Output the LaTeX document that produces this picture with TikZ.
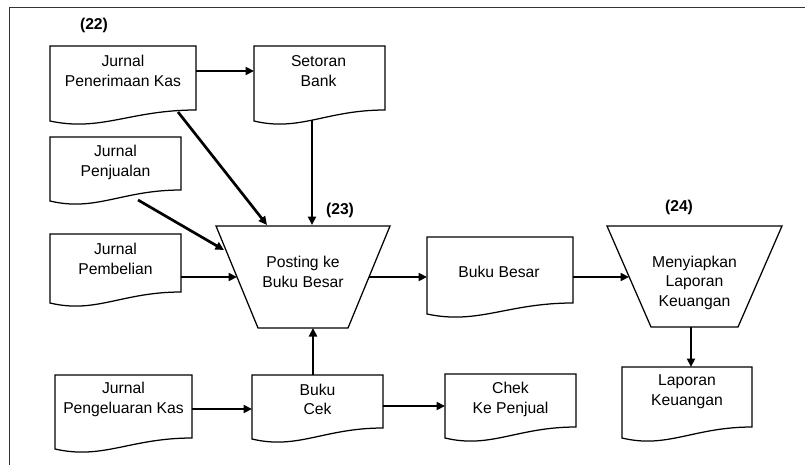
\documentclass[tikz,border=0pt]{standalone}
\usepackage{fontspec}
\setmainfont{Liberation Sans}
\usetikzlibrary{calc,arrows.meta}
\newcommand\docout[1]{\draw[shapeline] (#1.north west) -- (#1.north east) -- (#1.south east) .. controls ($(#1.south east)!0.45!(#1.south west)$) and ($(#1.south west)!0.35!(#1.south east)+(0,22)$) .. ($(#1.south west)+(0,11)$) -- cycle;}
\newcommand\trapout[2]{\draw[shapeline] (#1.north west) -- (#1.north east) -- ($(#1.south east)+(-#2,0)$) -- ($(#1.south west)+(#2,0)$) -- cycle;}
\begin{document}
\begin{tikzpicture}[x=1pt,y=-1pt,
 box/.style={draw=none, inner sep=0pt, outer sep=0pt},
 txt/.style={align=center, inner sep=0pt, font=\fontsize{15.7}{19.5}\selectfont},
 num/.style={inner sep=0pt, font=\fontsize{15.7}{19.5}\selectfont\bfseries},
 shapeline/.style={line width=1.25pt},
 flow/.style={line width=2.7pt, -{Triangle[length=8.5pt,width=8pt]}},
 frame/.style={line width=1.5pt, black!80}]
\useasboundingbox (0,0) rectangle (805,465);
\draw[frame] (9.5,465) -- (9.5,7.5) -- (805,7.5);
% boxes
\node[box, minimum width=146pt, minimum height=64pt] (jpk) at (123,78) {};
\node[box, minimum width=131pt, minimum height=64pt] (sb) at (319.5,78) {};
\node[box, minimum width=131pt, minimum height=53pt] (jpj) at (115.5,163.5) {};
\node[box, minimum width=131pt, minimum height=58pt] (jpb) at (115.5,263) {};
\node[box, minimum width=174pt, minimum height=102pt] (post) at (303,277) {};
\node[box, minimum width=146pt, minimum height=66pt] (bb) at (500,270) {};
\node[box, minimum width=175pt, minimum height=101pt] (men) at (694.5,276.5) {};
\node[box, minimum width=130pt, minimum height=60pt] (lk) at (687,397) {};
\node[box, minimum width=137pt, minimum height=63pt] (jpk2) at (123.5,406.5) {};
\node[box, minimum width=131pt, minimum height=53pt] (bc) at (317.5,401.5) {};
\node[box, minimum width=131pt, minimum height=53pt] (chek) at (510.5,400.5) {};
% outlines
\docout{jpk}\docout{sb}\docout{jpj}\docout{jpb}\docout{bb}\docout{lk}\docout{jpk2}\docout{bc}\docout{chek}
\trapout{post}{42}\trapout{men}{44}
% texts
\node[txt] (jpk-t) at ($(jpk.north)+(0,25)$) {Jurnal\\Penerimaan Kas};
\node[txt] (sb-t) at ($(sb.north)+(-1,25)$) {Setoran\\Bank};
\node[txt] (jpj-t) at ($(jpj.north)+(0,25.5)$) {Jurnal\\Penjualan};
\node[txt] (jpb-t) at ($(jpb.north)+(0,25)$) {Jurnal\\Pembelian};
\node[txt] (post-t) at ($(post.center)+(0,-5)$) {Posting ke\\Buku Besar};
\node[txt] (bb-t) at ($(bb.center)+(-1,2)$) {Buku Besar};
\node[txt] (men-t) at ($(men.center)+(0,6)$) {Menyiapkan\\Laporan\\Keuangan};
\node[txt] (lk-t) at ($(lk.north)+(0,24.5)$) {Laporan\\Keuangan};
\node[txt] (jpk2-t) at ($(jpk2.north)+(0,24.5)$) {Jurnal\\Pengeluaran Kas};
\node[txt] (bc-t) at ($(bc.north)+(0,24.5)$) {Buku\\Cek};
\node[txt] (chek-t) at ($(chek.north)+(0,25.5)$) {Chek\\Ke Penjual};
\node[num] (n22) at (94,25) {(22)};
\node[num] (n23) at (340,210) {(23)};
\node[num] (n24) at (679,207) {(24)};
% connectors
\draw[flow] ($(jpk.north east)+(0,25)$) -- ($(sb.north west)+(0,25)$);
\draw[flow] ($(jpk.south east)+(-18,2)$) -- ($(post.north west)+(51,-1)$);
\draw[flow] ($(sb.south)+(-7.5,10)$) -- ($(post.north)+(9,-1)$);
\draw[flow] ($(jpj.south)+(22.5,10)$) -- ($(post.north west)+(8,24)$);
\draw[flow] ($(jpb.north east)+(0,43)$) -- ($(post.west)+(21,0)$);
\draw[flow] ($(post.east)+(-21,0)$) -- ($(bb.north west)+(0,40)$);
\draw[flow] ($(bb.north east)+(0,40)$) -- ($(men.west)+(22,0.5)$);
\draw[flow] ($(men.south)+(-3.5,0)$) -- ($(lk.north)+(4,0)$);
\draw[flow] ($(jpk2.north east)+(0,34)$) -- ($(bc.north west)+(0,34)$);
\draw[flow] ($(bc.north)+(-4.5,0)$) -- ($(post.south)+(10,0)$);
\draw[flow] ($(bc.north east)+(0,31)$) -- ($(chek.north west)+(0,32)$);
\end{tikzpicture}
\end{document}
